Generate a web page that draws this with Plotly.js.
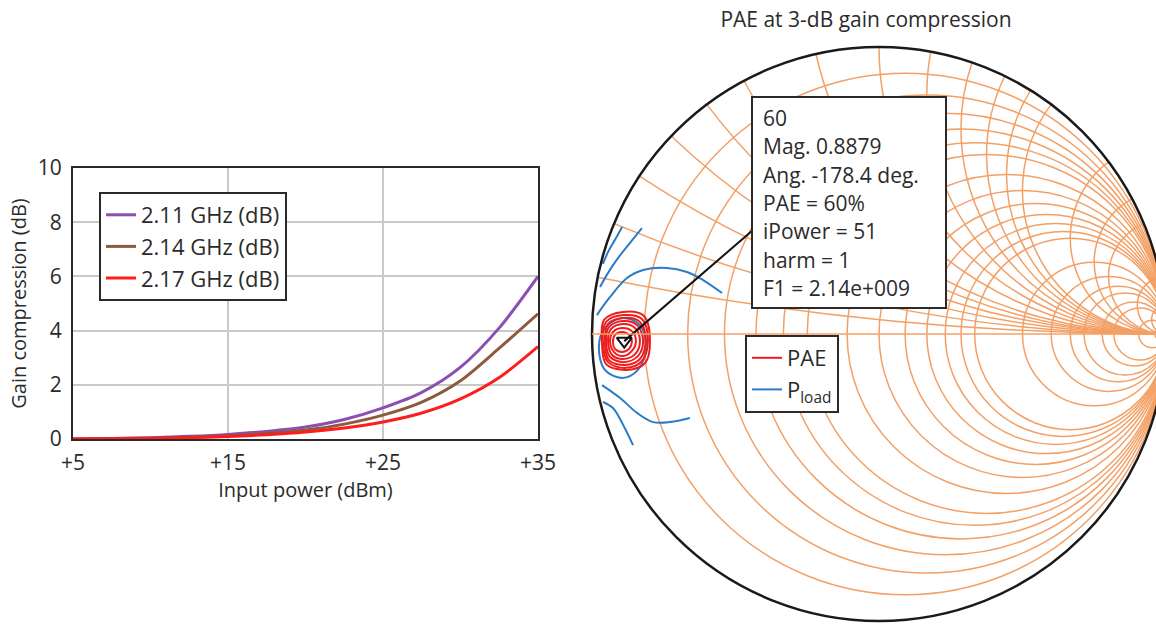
<!DOCTYPE html>
<html><head><meta charset="utf-8">
<script src="https://cdn.plot.ly/plotly-3.0.1.min.js"></script>
<style>html,body{margin:0;padding:0;overflow:hidden;background:#fff}#chart{width:1170px;height:625px}</style>
</head><body><div id="chart"></div>
<script>
// ---------- Left chart data ----------
const inputPower = [5, 7.5, 10, 12.5, 15, 17.5, 20, 22.5, 25, 27.5, 30, 32.5, 35];
const gc211 = [0, 0.02, 0.05, 0.10, 0.17, 0.28, 0.44, 0.72, 1.15, 1.72, 2.65, 4.10, 6.0];
const gc214 = [0, 0.01, 0.03, 0.07, 0.12, 0.20, 0.33, 0.55, 0.88, 1.36, 2.15, 3.35, 4.62];
const gc217 = [0, 0.01, 0.02, 0.05, 0.09, 0.16, 0.26, 0.41, 0.63, 0.96, 1.48, 2.27, 3.41];
const seriesNames = ['2.11 GHz (dB)', '2.14 GHz (dB)', '2.17 GHz (dB)'];
const xTickVals = [5, 15, 25, 35];
const xTickText = ['+5', '+15', '+25', '+35'];
const yTickVals = [0, 2, 4, 6, 8, 10];

// ---------- Smith chart data (reflection coefficient, re/im) ----------
const resistanceGrid = [0.1, 0.2, 0.3, 0.4, 0.5, 0.6, 0.8, 1, 1.2, 1.4, 1.6, 1.8, 2, 3, 4, 5, 6, 8, 10, 20, 50];
const reactanceGrid = [0.1, 0.2, 0.3, 0.4, 0.5, 0.6, 0.8, 1, 1.2, 1.4, 1.6, 1.8, 2, 3, 4, 5, 10, 20, 50];

const paeRing1 = [[-0.895,0.007],[-0.871,-0.003],[-0.861,-0.028],[-0.871,-0.052],[-0.895,-0.063],[-0.920,-0.052],[-0.927,-0.028],[-0.920,-0.003]];
const paeRing2 = [[-0.895,0.021],[-0.861,0.010],[-0.847,-0.024],[-0.861,-0.059],[-0.892,-0.077],[-0.923,-0.063],[-0.937,-0.028],[-0.927,0.007]];
const paeRing3 = [[-0.892,0.035],[-0.850,0.021],[-0.833,-0.024],[-0.850,-0.070],[-0.892,-0.087],[-0.930,-0.073],[-0.944,-0.028],[-0.934,0.017]];
const paeRing4 = [[-0.892,0.045],[-0.843,0.031],[-0.822,-0.024],[-0.840,-0.077],[-0.889,-0.098],[-0.937,-0.080],[-0.951,-0.028],[-0.941,0.024]];
const paeRing5 = [[-0.889,0.056],[-0.833,0.042],[-0.812,-0.021],[-0.833,-0.087],[-0.885,-0.108],[-0.941,-0.091],[-0.955,-0.031],[-0.944,0.035]];
const paeRing6 = [[-0.889,0.066],[-0.826,0.052],[-0.805,-0.021],[-0.826,-0.094],[-0.882,-0.118],[-0.944,-0.098],[-0.962,-0.031],[-0.951,0.042]];
const paeRing7 = [[-0.892,0.077],[-0.819,0.063],[-0.798,-0.021],[-0.815,-0.101],[-0.878,-0.125],[-0.951,-0.105],[-0.965,-0.031],[-0.958,0.049]];

const ploadRing = [[-0.895,0.056],[-0.833,0.031],[-0.812,-0.049],[-0.840,-0.125],[-0.895,-0.153],[-0.955,-0.125],[-0.976,-0.045],[-0.955,0.021]];
const ploadCurve1 = [[-0.895,0.373],[-0.920,0.328],[-0.944,0.286],[-0.962,0.244]];
const ploadCurve2 = [[-0.826,0.369],[-0.868,0.317],[-0.909,0.265],[-0.944,0.213],[-0.972,0.164]];
const ploadCurve3 = [[-0.983,0.066],[-0.937,0.129],[-0.878,0.195],[-0.822,0.223],[-0.739,0.230],[-0.669,0.216],[-0.613,0.188],[-0.547,0.143]];
const ploadCurve4 = [[-0.965,-0.178],[-0.902,-0.223],[-0.843,-0.275],[-0.787,-0.307],[-0.728,-0.307],[-0.659,-0.293]];
const ploadCurve5 = [[-0.962,-0.237],[-0.927,-0.258],[-0.895,-0.310],[-0.857,-0.387]];

const markerMag = 0.8879;
const markerAngDeg = -178.4;
const leaderEndGamma = [-0.443, 0.359];

const tooltipLines = ['60', 'Mag. 0.8879', 'Ang. -178.4 deg.', 'PAE = 60%', 'iPower = 51', 'harm = 1', 'F1 = 2.14e+009'];
const smithTitle = 'PAE at 3-dB gain compression';

// ---------- helpers ----------
function g2z(re, im) {
  const d = (1 - re) * (1 - re) + im * im;
  return [(1 - re * re - im * im) / d, (2 * im) / d];
}
function buildPath(curves, closedFlags) {
  const real = [], imag = [];
  curves.forEach((c, i) => {
    const pts = closedFlags[i] ? c.concat([c[0]]) : c;
    pts.forEach(p => { const z = g2z(p[0], p[1]); real.push(z[0]); imag.push(z[1]); });
    real.push(null); imag.push(null);
  });
  return {real, imag};
}

const W = 1170, H = 625;
const px = v => v / W;
const py = v => 1 - v / H;
const FONT = '"Open Sans", "DejaVu Sans", sans-serif';
const TXT = '#2b2b2b';
const GRID_ORANGE = 'rgb(243,160,102)';

const lineColors = ['#8a4fb0', '#8c5a3c', '#ff1c1c'];
const gcSeries = [gc211, gc214, gc217];

const traces = gcSeries.map((s, i) => ({
  type: 'scatter', mode: 'lines', x: inputPower, y: s, name: seriesNames[i],
  line: {color: lineColors[i], width: 3, shape: 'spline', smoothing: 0.8},
  xaxis: 'x', yaxis: 'y', legend: 'legend', cliponaxis: false
}));

const pload = buildPath([ploadRing, ploadCurve1, ploadCurve2, ploadCurve3, ploadCurve4, ploadCurve5], [true, false, false, false, false, false]);
traces.push({
  type: 'scattersmith', mode: 'lines', real: pload.real, imag: pload.imag,
  name: 'P<sub>load</sub>', legend: 'legend2', legendrank: 2,
  line: {color: '#2a7cc7', width: 2, shape: 'spline'}, connectgaps: false
});
const pae = buildPath([paeRing1, paeRing2, paeRing3, paeRing4, paeRing5, paeRing6, paeRing7], [true, true, true, true, true, true, true]);
traces.push({
  type: 'scattersmith', mode: 'lines', real: pae.real, imag: pae.imag,
  name: 'PAE', legend: 'legend2', legendrank: 1,
  line: {color: '#ee1c1c', width: 2, shape: 'spline'}, connectgaps: false
});

const mRe = markerMag * Math.cos(markerAngDeg * Math.PI / 180);
const mIm = markerMag * Math.sin(markerAngDeg * Math.PI / 180);
const mz = g2z(mRe, mIm);
const lz = g2z(leaderEndGamma[0], leaderEndGamma[1]);
traces.push({
  type: 'scattersmith', mode: 'lines', real: [mz[0], lz[0]], imag: [mz[1], lz[1]],
  line: {color: '#111', width: 2}, showlegend: false, hoverinfo: 'skip'
});
traces.push({
  type: 'scattersmith', mode: 'markers', real: [mz[0]], imag: [mz[1]],
  marker: {symbol: 'triangle-down-open', size: 13, color: '#111', line: {width: 2, color: '#111'}},
  showlegend: false
});

const annotations = tooltipLines.map((t, i) => ({
  xref: 'paper', yref: 'paper', x: px(761), y: py(118 + 28.3 * i),
  xanchor: 'left', yanchor: 'middle', showarrow: false, text: t,
  font: {family: FONT, size: 21, color: TXT}
}));

const layout = {
  width: W, height: H,
  margin: {l: 0, r: 0, t: 0, b: 0},
  paper_bgcolor: '#fff', plot_bgcolor: '#fff',
  font: {family: FONT, color: TXT},
  title: {text: smithTitle, x: px(866), xanchor: 'center', y: py(20), yanchor: 'middle',
          font: {family: FONT, size: 21, color: TXT}},
  xaxis: {
    domain: [px(73), px(538)], range: [5, 35], tickvals: xTickVals, ticktext: xTickText,
    showgrid: true, gridcolor: '#c9c9c9', gridwidth: 2, zeroline: false,
    showline: true, mirror: true, linecolor: '#2a2a2a', linewidth: 2, ticks: '',
    tickfont: {family: FONT, size: 21, color: TXT}, ticklabelstandoff: 4,
    title: {text: 'Input power (dBm)', font: {family: FONT, size: 20, color: TXT}, standoff: 0},
    fixedrange: true
  },
  yaxis: {
    domain: [py(439), py(168)], range: [0, 10], tickvals: yTickVals,
    showgrid: true, gridcolor: '#c9c9c9', gridwidth: 2, zeroline: false,
    showline: true, mirror: true, linecolor: '#2a2a2a', linewidth: 2, ticks: '',
    tickfont: {family: FONT, size: 21, color: TXT}, ticklabelstandoff: 5,
    title: {text: 'Gain compression (dB)', font: {family: FONT, size: 20, color: TXT}, standoff: 6},
    fixedrange: true
  },
  legend: {
    x: px(99), y: py(192), xanchor: 'left', yanchor: 'top',
    bgcolor: '#fff', bordercolor: '#2a2a2a', borderwidth: 2,
    font: {family: FONT, size: 22, color: TXT}, tracegroupgap: 0
  },
  legend2: {
    x: px(745), y: py(335), xanchor: 'left', yanchor: 'top',
    bgcolor: '#fff', bordercolor: '#2a2a2a', borderwidth: 2,
    font: {family: FONT, size: 22, color: TXT}
  },
  smith: {
    domain: {x: [px(592), px(1166)], y: [py(621), py(47)]},
    bgcolor: '#fff',
    realaxis: {
      tickvals: resistanceGrid, showticklabels: false, ticks: '',
      showgrid: true, gridcolor: GRID_ORANGE, gridwidth: 1.5,
      showline: true, linecolor: GRID_ORANGE, linewidth: 1.5
    },
    imaginaryaxis: {
      tickvals: reactanceGrid, showticklabels: false, ticks: '',
      showgrid: true, gridcolor: GRID_ORANGE, gridwidth: 1.5,
      showline: true, linecolor: '#1a1a1a', linewidth: 2.5
    }
  },
  shapes: [{
    type: 'rect', xref: 'paper', yref: 'paper', layer: 'above',
    x0: px(752), x1: px(946), y0: py(308), y1: py(97),
    line: {color: '#2a2a2a', width: 2}, fillcolor: '#fff'
  }],
  annotations: annotations,
  showlegend: true
};

Plotly.newPlot('chart', traces, layout, {displayModeBar: false, staticPlot: true});
</script></body></html>
